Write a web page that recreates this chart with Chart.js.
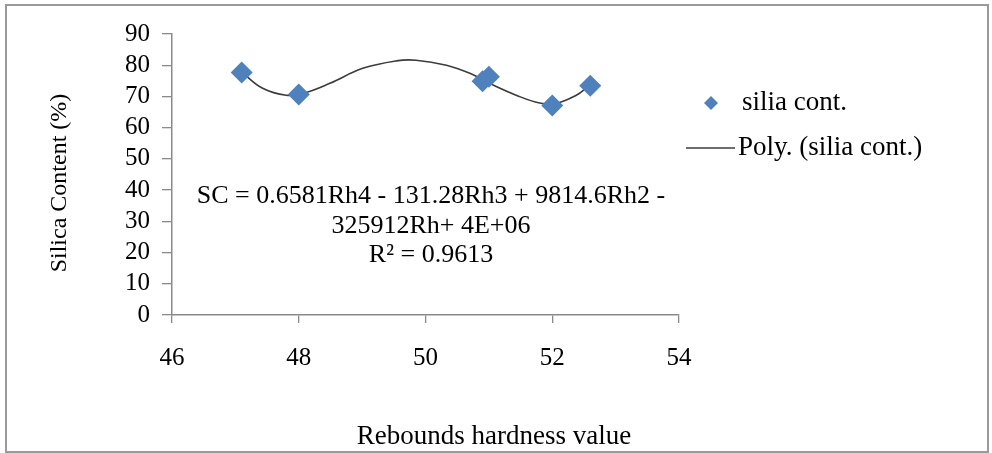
<!DOCTYPE html>
<html>
<head>
<meta charset="utf-8">
<script src="https://cdn.jsdelivr.net/npm/chart.js@4/dist/chart.umd.min.js"></script>
<style>
html,body{margin:0;padding:0;background:#fff;}
canvas{display:block;}
</style>
</head>
<body>
<canvas id="c" width="992" height="453"></canvas>
<script>
// Measured data (rebound hardness vs silica content)
const hardness = [47.1, 48.0, 50.9, 51.0, 52.0, 52.6];
const silica = [77.7, 70.6, 74.9, 76.3, 67.1, 73.4];
// Polynomial trendline samples
const trendX = [47.11, 47.43, 47.8, 48.07, 48.49, 49.01, 49.54, 49.85, 50.33, 50.7, 51.01, 51.43, 51.8, 52.06, 52.38, 52.56];
const trendY = [77.6, 72.6, 70.4, 71.0, 74.2, 79.0, 81.4, 81.6, 80.0, 77.4, 74.2, 70.4, 67.9, 67.8, 70.4, 73.1];
const xTicks = [46, 48, 50, 52, 54];
const yTicks = [0, 10, 20, 30, 40, 50, 60, 70, 80, 90];
const seriesName = 'silia cont.';
const trendName = 'Poly. (silia cont.)';
const xTitle = 'Rebounds hardness value';
const yTitle = 'Silica Content (%)';
const equationLines = ['SC = 0.6581Rh4 - 131.28Rh3 + 9814.6Rh2 -', '325912Rh+ 4E+06', 'R\u00B2 = 0.9613'];

const FONT = '"Liberation Serif", "Times New Roman", serif';
const BLUE = '#4F81BD';
const LINE = '#3c3c3c';

const decor = {
  id: 'decor',
  beforeDraw(chart) {
    const ctx = chart.ctx;
    ctx.save();
    ctx.fillStyle = '#fff';
    ctx.fillRect(0, 0, chart.width, chart.height);
    ctx.strokeStyle = '#9a9a9a';
    ctx.lineWidth = 2;
    ctx.strokeRect(6, 5, 982, 447);
    ctx.restore();
  },
  afterDraw(chart) {
    const ctx = chart.ctx;
    ctx.save();
    ctx.fillStyle = '#000';
    ctx.textAlign = 'center';
    ctx.textBaseline = 'middle';
    ctx.font = '26px ' + FONT;
    const ex = 431;
    const ey = [196, 226, 255];
    equationLines.forEach((t, i) => ctx.fillText(t, ex, ey[i]));
    // axis titles
    ctx.font = '27px ' + FONT;
    ctx.fillText(xTitle, 494, 437);
    ctx.save();
    ctx.font = '24px ' + FONT;
    ctx.translate(60, 183);
    ctx.rotate(-Math.PI / 2);
    ctx.fillText(yTitle, 0, 0);
    ctx.restore();
    // legend
    ctx.textAlign = 'left';
    ctx.font = '27px ' + FONT;
    ctx.fillStyle = BLUE;
    ctx.beginPath();
    const lx = 711, ly = 103, r = 7;
    ctx.moveTo(lx, ly - r); ctx.lineTo(lx + r, ly); ctx.lineTo(lx, ly + r); ctx.lineTo(lx - r, ly); ctx.closePath();
    ctx.fill();
    ctx.fillStyle = '#000';
    ctx.fillText(seriesName, 742, 103);
    ctx.strokeStyle = LINE;
    ctx.lineWidth = 1.5;
    ctx.beginPath();
    ctx.moveTo(686, 148); ctx.lineTo(735, 148); ctx.stroke();
    ctx.fillText(trendName, 738, 148);
    ctx.restore();
  }
};

new Chart(document.getElementById('c'), {
  type: 'scatter',
  data: {
    datasets: [
      {
        label: trendName,
        data: trendX.map((x, i) => ({x: x, y: trendY[i]})),
        showLine: true,
        borderColor: LINE,
        borderWidth: 1.6,
        pointRadius: 0,
        tension: 0.4,
        order: 2
      },
      {
        label: seriesName,
        data: hardness.map((x, i) => ({x: x, y: silica[i]})),
        pointStyle: 'rectRot',
        pointRadius: 11,
        backgroundColor: BLUE,
        borderColor: BLUE,
        borderWidth: 0,
        order: 1
      }
    ]
  },
  options: {
    responsive: false,
    animation: false,
    devicePixelRatio: 1,
    layout: { padding: { left: 0, top: 34, right: 313, bottom: 0 } },
    plugins: { legend: { display: false }, tooltip: { enabled: false } },
    scales: {
      x: {
        type: 'linear',
        min: 46, max: 54,
        afterBuildTicks(s) { s.ticks = xTicks.map(v => ({value: v})); },
        afterFit(s) { s.height = 138; },
        grid: { drawOnChartArea: false, drawTicks: true, tickLength: 8, color: '#8a8a8a', lineWidth: 1.3 },
        border: { color: '#8a8a8a', width: 1.5 },
        ticks: { color: '#000', font: { family: FONT, size: 25 }, padding: 20, maxRotation: 0, autoSkip: false }
      },
      y: {
        type: 'linear',
        min: 0, max: 90,
        afterBuildTicks(s) { s.ticks = yTicks.map(v => ({value: v})); },
        afterFit(s) { s.width = 172; },
        grid: { drawOnChartArea: false, drawTicks: true, tickLength: 10, color: '#8a8a8a', lineWidth: 1.3 },
        border: { color: '#8a8a8a', width: 1.5 },
        ticks: { color: '#000', font: { family: FONT, size: 25 }, padding: 12, autoSkip: false }
      }
    }
  },
  plugins: [decor]
});
</script>
</body>
</html>
